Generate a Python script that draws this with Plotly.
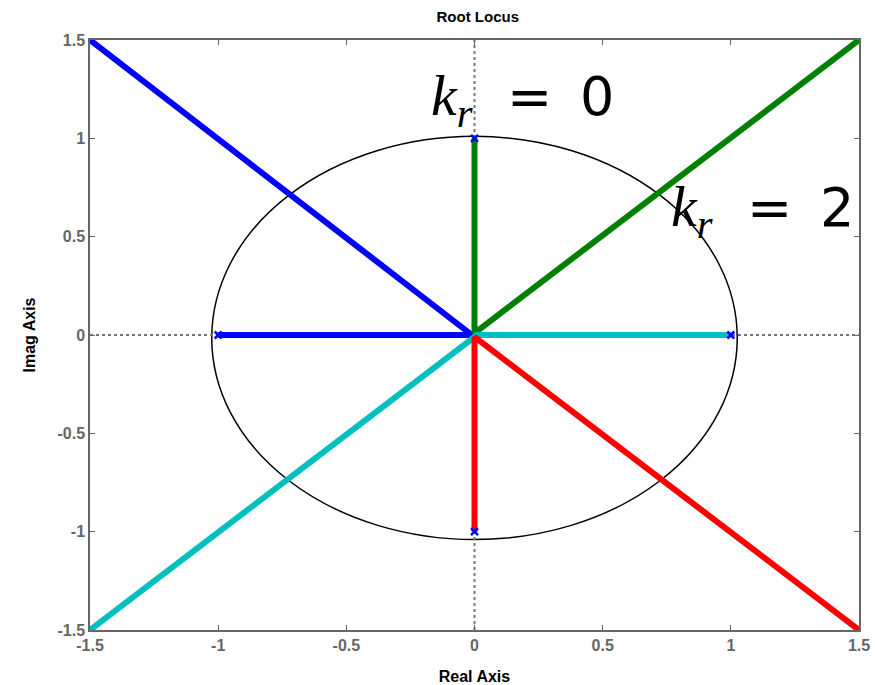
import plotly.graph_objects as go

# Root locus branches: each starts at an open-loop pole, passes the origin, and heads out along an asymptote
branch_colors = ["#0000ff", "#008000", "#00bfbf", "#ff0000"]
branch_x = [
    [-1.0, -0.01, -1.5],
    [0.0, 0.0, 1.5],
    [1.0, 0.01, -1.5],
    [0.0, 0.0, 1.5],
]
branch_y = [
    [0.0, 0.0, 1.5],
    [1.0, 0.01, 1.5],
    [0.0, 0.0, -1.5],
    [-1.0, -0.01, -1.5],
]

# Open-loop poles
pole_x = [-1.0, 0.0, 1.0, 0.0]
pole_y = [0.0, 1.0, 0.0, -1.0]

# Reference circle
circle_cx, circle_cy, circle_r = 0.0, -0.015, 1.025

axis_range = [-1.5, 1.5]
tick_vals = [-1.5, -1, -0.5, 0, 0.5, 1, 1.5]
tick_text = ["-1.5", "-1", "-0.5", "0", "0.5", "1", "1.5"]

gray = "#666666"
font_sans = "Arial, Liberation Sans, sans-serif"

fig = go.Figure()

# dotted zero axes
fig.add_trace(go.Scatter(x=axis_range, y=[0, 0], mode="lines",
                         line=dict(color="#777777", width=2, dash="dot"),
                         hoverinfo="skip", showlegend=False))
fig.add_trace(go.Scatter(x=[0, 0], y=axis_range, mode="lines",
                         line=dict(color="#777777", width=2, dash="dot"),
                         hoverinfo="skip", showlegend=False))

for bx, by, c in zip(branch_x, branch_y, branch_colors):
    fig.add_trace(go.Scatter(x=bx, y=by, mode="lines",
                             line=dict(color=c, width=6),
                             showlegend=False))

fig.add_trace(go.Scatter(x=pole_x, y=pole_y, mode="markers",
                         marker=dict(symbol="x-thin", size=7, color="#0000ff",
                                     line=dict(color="#0000ff", width=2.5)),
                         showlegend=False))

fig.add_shape(type="circle", xref="x", yref="y",
              x0=circle_cx - circle_r, x1=circle_cx + circle_r,
              y0=circle_cy - circle_r, y1=circle_cy + circle_r,
              line=dict(color="black", width=1.5), layer="below")

kr_font = dict(family="Liberation Serif, DejaVu Serif, serif", size=58, color="black")
sans_part = ("<span style='font-family:DejaVu Sans, sans-serif;font-size:54px'>"
             "&nbsp;&nbsp;=&nbsp;\u2009{}</span>")
fig.add_annotation(x=0.187, y=1.2, xref="x", yref="y", showarrow=False,
                   text="<i>k</i><sub><i>r</i></sub>" + sans_part.format("0"), font=kr_font)
fig.add_annotation(x=1.124, y=0.635, xref="x", yref="y", showarrow=False,
                   text="<i>k</i><sub><i>r</i></sub>" + sans_part.format("2"), font=kr_font)

axis_common = dict(
    range=axis_range, tickvals=tick_vals, ticktext=tick_text,
    showgrid=False, zeroline=False, showline=True, linecolor=gray, linewidth=1.5,
    mirror="ticks", ticks="inside", ticklen=5, tickcolor=gray, automargin=False,
    tickfont=dict(family=font_sans, size=16, color=gray, weight="bold"),
)

fig.update_xaxes(**axis_common,
                 title=dict(text="<b>Real Axis</b>", standoff=18,
                            font=dict(family=font_sans, size=16, color="black")))
fig.update_yaxes(**axis_common,
                 title=dict(text="<b>Imag Axis</b>", standoff=18,
                            font=dict(family=font_sans, size=16, color="black")))

fig.update_layout(
    width=875, height=685,
    margin=dict(l=90, r=16, t=40, b=55),
    paper_bgcolor="white", plot_bgcolor="white",
    title=dict(text="<b>Root Locus</b>", x=0.546, xanchor="center", y=0.975, yanchor="middle",
               font=dict(family=font_sans, size=15, color="black")),
)

fig.write_html("out.html")
